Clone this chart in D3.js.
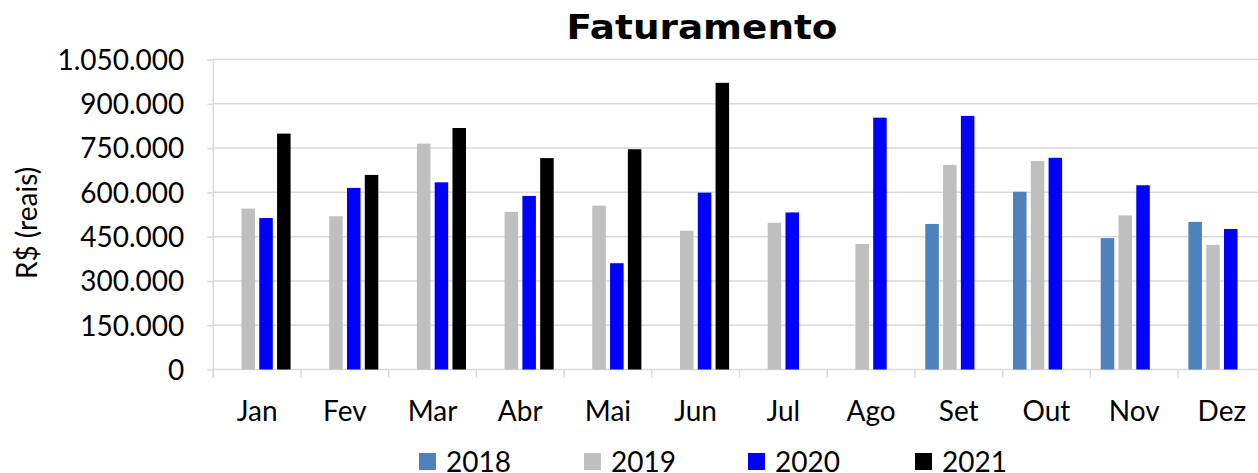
<!DOCTYPE html>
<html>
<head>
<meta charset="utf-8">
<script src="https://cdn.jsdelivr.net/npm/d3@7"></script>
<style>
  body { margin: 0; background: #fff; }
  svg text { font-family: Lato, "Open Sans", sans-serif; fill: #000; }
</style>
</head>
<body>
<svg id="chart" width="1258" height="473"></svg>
<script>
const months = ["Jan", "Fev", "Mar", "Abr", "Mai", "Jun", "Jul", "Ago", "Set", "Out", "Nov", "Dez"];
const years = ["2018", "2019", "2020", "2021"];
const v2018 = [null, null, null, null, null, null, null, null, 493000, 602000, 445000, 500000];
const v2019 = [545000, 519000, 765000, 534000, 555000, 470000, 497000, 425000, 693000, 706000, 522000, 422000];
const v2020 = [513000, 615000, 634000, 588000, 360000, 599000, 532000, 853000, 859000, 717000, 624000, 476000];
const v2021 = [799000, 659000, 818000, 716000, 746000, 971000, null, null, null, null, null, null];
const yTicks = [0, 150000, 300000, 450000, 600000, 750000, 900000, 1050000];
const colors = ["#4F81BD", "#BFBFBF", "#0000FF", "#000000"];

const seriesValues = [v2018, v2019, v2020, v2021];

const svg = d3.select("#chart");
const gridColor = "#D9D9D9";

const x = d3.scaleBand().domain(months).range([213.3, 1265.7]).padding(0);
const x1 = d3.scaleBand().domain(years).range([0, x.bandwidth()])
    .paddingInner(0.24).paddingOuter(0.585);
const y = d3.scaleLinear().domain([0, 1050000]).range([369.5, 59.5]);

const ptBR = d3.formatLocale({ decimal: ",", thousands: ".", grouping: [3], currency: ["R$", ""] });
const fmt = ptBR.format(",d");

// gridlines
svg.append("g")
    .selectAll("line")
    .data(yTicks)
    .join("line")
    .attr("x1", 213.3).attr("x2", 1258)
    .attr("y1", d => y(d)).attr("y2", d => y(d))
    .attr("stroke", gridColor).attr("stroke-width", 1.5);

// y axis
const yAxis = svg.append("g")
    .attr("transform", "translate(213.3,0)")
    .call(d3.axisLeft(y).tickValues(yTicks).tickFormat(fmt).tickSize(6).tickPadding(23));
yAxis.select(".domain").attr("stroke", gridColor).attr("stroke-width", 1.5)
    .attr("d", `M0,${y(1050000)}V378`);
yAxis.selectAll(".tick line").attr("stroke", gridColor).attr("stroke-width", 1.5);
yAxis.selectAll(".tick text").attr("font-size", 28).attr("dy", "0.35em");

// x axis
const xAxis = svg.append("g").attr("transform", `translate(0,${y(0)})`)
    .call(d3.axisBottom(x).tickSize(0).tickPadding(32));
xAxis.select(".domain").remove();
xAxis.selectAll(".tick text").attr("font-size", 28);
svg.append("g").selectAll("line")
    .data(months.concat(["end"]))
    .join("line")
    .attr("x1", d => d === "end" ? x.range()[1] : x(d))
    .attr("x2", d => d === "end" ? x.range()[1] : x(d))
    .attr("y1", y(0)).attr("y2", y(0) + 8)
    .attr("stroke", gridColor).attr("stroke-width", 1.5);

// bars
const groups = svg.append("g").selectAll("g")
    .data(months)
    .join("g")
    .attr("transform", d => `translate(${x(d)},0)`);

groups.selectAll("rect")
    .data((m, i) => years.map((yr, s) => ({ yr, s, v: seriesValues[s][i] })).filter(d => d.v != null))
    .join("rect")
    .attr("x", d => x1(d.yr))
    .attr("width", x1.bandwidth())
    .attr("y", d => y(d.v))
    .attr("height", d => y(0) - y(d.v))
    .attr("fill", d => colors[d.s]);

// title
svg.append("text")
    .attr("x", 702).attr("y", 39)
    .attr("text-anchor", "middle")
    .style("font-family", "'DejaVu Sans', sans-serif")
    .attr("font-weight", "bold").attr("font-size", 34)
    .attr("textLength", 271).attr("lengthAdjust", "spacingAndGlyphs")
    .text("Faturamento");

// y label
svg.append("text")
    .attr("transform", "translate(37,223) rotate(-90)")
    .attr("text-anchor", "middle")
    .attr("font-size", 28)
    .text("R$ (reais)");

// legend
const legendX = [419, 584, 748, 915];
const legend = svg.append("g").selectAll("g")
    .data(years)
    .join("g")
    .attr("transform", (d, i) => `translate(${legendX[i]},453)`);
legend.append("rect").attr("width", 17).attr("height", 17).attr("fill", (d, i) => colors[i]);
legend.append("text").attr("x", 27).attr("y", 19).attr("font-size", 28).text(d => d);
</script>
</body>
</html>
